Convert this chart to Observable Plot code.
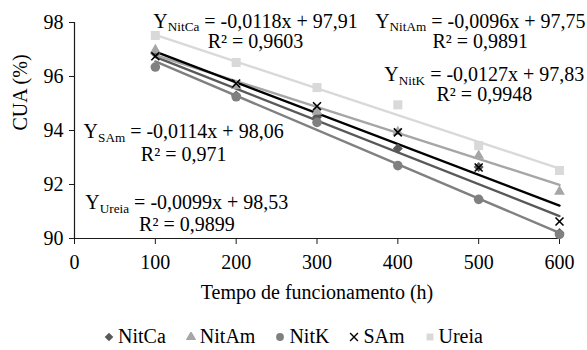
<!DOCTYPE html>
<html><head><meta charset="utf-8">
<script src="https://cdn.jsdelivr.net/npm/d3@7"></script>
<script src="https://cdn.jsdelivr.net/npm/@observablehq/plot@0.6"></script>
<style>
body{margin:0;background:#fff;}
#wrap{position:relative;width:587px;height:350px;background:#fff;font-family:"Liberation Serif","DejaVu Serif",serif;}
#legend{position:absolute;left:0;top:325px;width:587px;display:flex;justify-content:center;align-items:center;font-size:20px;color:#000;font-family:"Liberation Serif","DejaVu Serif",serif;}
#legend .item{display:flex;align-items:center;margin:0 10px;}
#legend svg{margin-right:4px;}
svg text{font-family:"Liberation Serif","DejaVu Serif",serif;}
</style></head>
<body><div id="wrap"><div id="chart"></div><div id="legend"></div></div>
<script>
// ---- data ----
const hours = [100, 200, 300, 400, 500, 600];
const seriesNames = ["NitCa", "NitAm", "NitK", "SAm", "Ureia"];
const nitCa = [96.85, 95.30, 94.50, 93.33, 92.65, 90.20];
const nitAm = [96.98, 95.65, 94.70, 93.95, 93.07, 91.74];
const nitK  = [96.35, 95.25, 94.30, 92.70, 91.45, 90.15];
const sAm   = [96.75, 95.74, 94.90, 93.93, 92.63, 90.63];
const ureia = [97.52, 96.52, 95.59, 94.95, 93.44, 92.52];
const slopes = [-0.0118, -0.0096, -0.0127, -0.0114, -0.0099];
const intercepts = [97.91, 97.75, 97.83, 98.06, 98.53];
const eqTexts = ["-0,0118x + 97,91", "-0,0096x + 97,75", "-0,0127x + 97,83", "-0,0114x + 98,06", "-0,0099x + 98,53"];
const r2Texts = ["0,9603", "0,9891", "0,9948", "0,971", "0,9899"];
const xTicks = [0, 100, 200, 300, 400, 500, 600];
const yTicks = [90, 92, 94, 96, 98];
// label anchors (data coordinates)
const eqX = [224, 502, 507, 135, 139];
const eqY = [98.05, 98.05, 96.07, 93.96, 91.33];
const r2Y = [97.30, 97.30, 95.33, 93.11, 90.52];

// ---- styles ----
const colors = ["#595959", "#a6a6a6", "#808080", "#000000", "#d9d9d9"];
const symbols = ["diamond2", "triangle", "circle", "times", "square"];
const radii = [4.5, 4.0, 4.8, 3.7, 5.1];
const FS = 20;

const values = [nitCa, nitAm, nitK, sAm, ureia];
const points = seriesNames.map((s, i) => hours.map((h, j) => ({series: s, x: h, y: values[i][j]})));
const trends = seriesNames.map((s, i) => [hours[0], hours[hours.length - 1]].map(h => ({series: s, x: h, y: intercepts[i] + slopes[i] * h})));
const eqs = seriesNames.map((s, i) => ({name: s, x: eqX[i], y: eqY[i], text: "Y" + s + " = " + eqTexts[i]}));
const r2s = seriesNames.map((s, i) => ({x: eqX[i], y: r2Y[i], text: "R² = " + r2Texts[i]}));

const marks = [
  Plot.ruleY([90], {stroke: "#1a1a1a", strokeWidth: 1.2}),
  Plot.ruleX([0], {stroke: "#1a1a1a", strokeWidth: 1.2}),
  Plot.axisX({ticks: xTicks, tickSize: 6, tickPadding: 10, tickFormat: d => String(d), label: null, stroke: "#1a1a1a", fontSize: FS}),
  Plot.axisY({ticks: yTicks, tickSize: 5, tickPadding: 6, tickFormat: d => String(d), label: null, stroke: "#1a1a1a", fontSize: FS}),
  Plot.text(["Tempo de funcionamento (h)"], {frameAnchor: "bottom", dy: 60, fontSize: FS}),
  Plot.text(["CUA (%)"], {frameAnchor: "left", dx: -54, rotate: -90, fontSize: FS})
];
// trend lines
trends.forEach((t, i) => marks.push(Plot.line(t, {x: "x", y: "y", stroke: colors[i], strokeWidth: 2.4})));
// markers
points.forEach((p, i) => {
  const isStroke = symbols[i] === "times";
  marks.push(Plot.dot(p, {x: "x", y: "y", symbol: () => symbols[i], r: radii[i],
    fill: isStroke ? "none" : colors[i], stroke: isStroke ? colors[i] : "none", strokeWidth: isStroke ? 1.6 : 0}));
});
marks.push(Plot.text(eqs, {x: "x", y: "y", text: "text", fontSize: FS}));
marks.push(Plot.text(r2s, {x: "x", y: "y", text: "text", fontSize: FS}));

const chart = Plot.plot({
  width: 587, height: 318,
  marginLeft: 74, marginRight: 28, marginTop: 22, marginBottom: 80,
  style: {fontFamily: '"Liberation Serif","DejaVu Serif",serif', fontSize: FS + "px", color: "#000", background: "#fff", overflow: "visible"},
  x: {domain: [0, 600]},
  y: {domain: [90, 98]},
  symbol: {type: "identity"},
  marks
});
document.getElementById("chart").appendChild(chart);

// subscripts in equation labels
d3.select(chart).selectAll("text").each(function () {
  const content = this.textContent;
  const i = seriesNames.findIndex((s, k) => content === "Y" + s + " = " + eqTexts[k]);
  if (i < 0) return;
  const t = d3.select(this);
  t.text(null);
  t.append("tspan").text("Y");
  t.append("tspan").attr("font-size", "0.66em").attr("dy", "0.28em").text(seriesNames[i]);
  t.append("tspan").attr("dy", "-0.185em").text(" = " + eqTexts[i]);
});

// legend
const legend = d3.select("#legend");
seriesNames.forEach((s, i) => {
  const item = legend.append("div").attr("class", "item");
  const sv = item.append("svg").attr("width", 10).attr("height", 10).attr("viewBox", "-5 -5 10 10");
  const path = d3.symbol(
    {diamond2: d3.symbolDiamond2, triangle: d3.symbolTriangle, circle: d3.symbolCircle, times: d3.symbolTimes, square: d3.symbolSquare}[symbols[i]],
    symbols[i] === "times" ? 42 : 48)();
  const p = sv.append("path").attr("d", path);
  if (symbols[i] === "times") p.attr("fill", "none").attr("stroke", colors[i]).attr("stroke-width", 1.4);
  else p.attr("fill", colors[i]);
  item.append("span").text(s);
});
</script></body></html>
